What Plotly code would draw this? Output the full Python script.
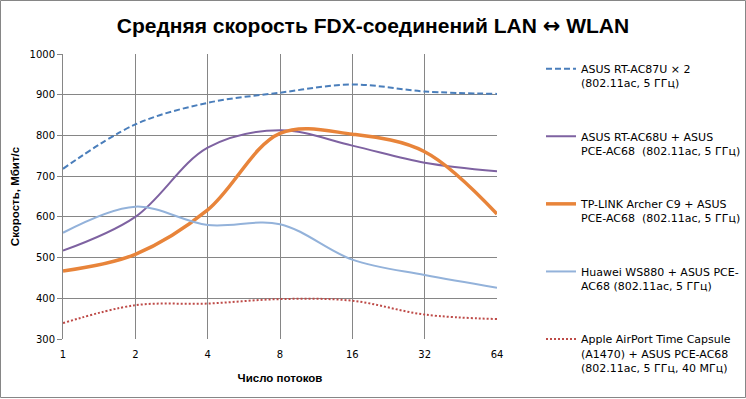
import plotly.graph_objects as go

threads = ["1", "2", "4", "8", "16", "32", "64"]
asus_ac87u = [718, 827, 880, 905, 925, 908, 902]
asus_ac68u = [517, 600, 770, 813, 775, 733, 712]
tplink_c9 = [467, 508, 617, 805, 803, 760, 607]
huawei_ws880 = [561, 625, 580, 582, 495, 457, 426]
apple_tc = [339, 383, 387, 398, 394, 360, 349]

names = [
    "ASUS RT-AC87U × 2<br>(802.11ac, 5 ГГц)",
    "ASUS RT-AC68U + ASUS<br>PCE-AC68  (802.11ac, 5 ГГц)",
    "TP-LINK Archer C9 + ASUS<br>PCE-AC68  (802.11ac, 5 ГГц)",
    "Huawei WS880 + ASUS PCE-<br>AC68 (802.11ac, 5 ГГц)",
    "Apple AirPort Time Capsule<br>(A1470) + ASUS PCE-AC68<br>(802.11ac, 5 ГГц, 40 МГц)",
]
series = [asus_ac87u, asus_ac68u, tplink_c9, huawei_ws880, apple_tc]
colors = ["#4A7EBB", "#7E62A1", "#E8843A", "#93B2DA", "#BE4B48"]
widths = [2, 2, 3.5, 2, 2]
dashes = ["6px,3px", "solid", "solid", "solid", "2px,2px"]

W, H = 746, 399
ml, mr, mt, mb = 63, 249, 54, 60
pw, ph = W - ml - mr, H - mt - mb

fig = go.Figure()
for i, (nm, ys) in enumerate(zip(names, series)):
    fig.add_trace(go.Scatter(
        x=threads, y=ys, name=nm, mode="lines", legendgroup=f"g{i}",
        line=dict(color=colors[i], width=widths[i], dash=dashes[i],
                  shape="spline", smoothing=1.0),
    ))

grid = "#868686"
fig.update_layout(
    width=W, height=H,
    margin=dict(l=ml, r=mr, t=mt, b=mb, autoexpand=False),
    paper_bgcolor="white", plot_bgcolor="white",
    font=dict(family="DejaVu Sans", size=10, color="#000000"),
    title=dict(text="<b>Средняя скорость FDX-соединений LAN "
                    "<span style='font-family:DejaVu Sans'>↔</span> WLAN</b>",
               x=0.5, xanchor="center", y=1 - 26 / H, yanchor="middle",
               font=dict(family="Liberation Sans", size=21, color="#000")),
    xaxis=dict(type="category", range=[0, 6], showgrid=True, gridcolor=grid,
               gridwidth=1, showline=False, zeroline=False, ticks="",
               automargin=False, ticklabelstandoff=8,
               tickfont=dict(family="DejaVu Sans", size=10),
               title=dict(text="<b>Число потоков</b>", standoff=14,
                          font=dict(family="Liberation Sans", size=11.5))),
    yaxis=dict(range=[300, 1000], dtick=100, showgrid=True, gridcolor=grid,
               gridwidth=1, showline=True, linecolor=grid, linewidth=1,
               ticks="outside", ticklen=5, tickcolor=grid, zeroline=False,
               automargin=False,
               tickfont=dict(family="DejaVu Sans", size=10),
               title=dict(text="<b>Скорость, Мбит/с</b>", standoff=7,
                          font=dict(family="Liberation Sans", size=11.5))),
    legend=dict(x=(541 - ml) / pw, xanchor="left", y=1 - (55 - mt) / ph,
                yanchor="top", tracegroupgap=36, valign="top", maxheight=340,
                font=dict(family="DejaVu Sans", size=11),
                bgcolor="rgba(0,0,0,0)"),
    shapes=[dict(type="rect", xref="paper", yref="paper",
                 x0=(0.5 - ml) / pw, x1=(W - 0.5 - ml) / pw,
                 y0=-(mb - 1.5) / ph, y1=1 + (mt - 0.5) / ph,
                 line=dict(color=grid, width=1))],
)

fig.write_html("out.html", config={"displayModeBar": False},
               post_script="document.body.style.margin='0px';"
                           "document.body.style.padding='0px';")
